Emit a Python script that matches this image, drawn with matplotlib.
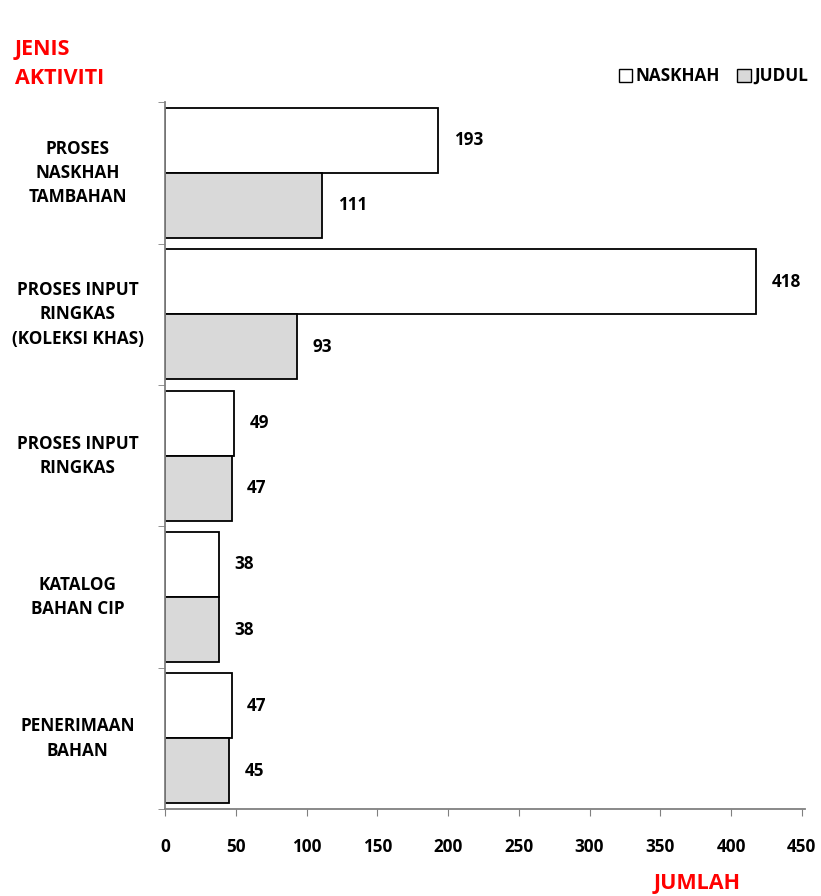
import numpy as np
import matplotlib
matplotlib.use("Agg")
import matplotlib.pyplot as plt
from matplotlib.patches import Patch
from matplotlib.transforms import ScaledTranslation

plt.rcParams['font.family'] = ['Open Sans', 'DejaVu Sans']
plt.rcParams['font.weight'] = 'bold'

categories = ["PROSES\nNASKHAH\nTAMBAHAN", "PROSES INPUT\nRINGKAS\n(KOLEKSI KHAS)",
              "PROSES INPUT\nRINGKAS", "KATALOG\nBAHAN CIP", "PENERIMAAN\nBAHAN"]
naskhah = [193, 418, 49, 38, 47]
judul = [111, 93, 47, 38, 45]
xticks = [0, 50, 100, 150, 200, 250, 300, 350, 400, 450]

fig = plt.figure(figsize=(8.21, 8.96), dpi=100)
ax = fig.add_axes([0.201, 0.097, 0.779, 0.789])

y = np.arange(len(categories))
h = 0.46
ax.barh(y - h / 2, naskhah, height=h, color="white", edgecolor="black", linewidth=1.3, label="NASKHAH")
ax.barh(y + h / 2, judul, height=h, color="#d9d9d9", edgecolor="black", linewidth=1.3, label="JUDUL")

fs = 12.3
for i in range(len(categories)):
    ax.text(naskhah[i] + 11, y[i] - h / 2, str(naskhah[i]), va="center", ha="left", fontsize=fs, fontweight="bold")
    ax.text(judul[i] + 11, y[i] + h / 2, str(judul[i]), va="center", ha="left", fontsize=fs, fontweight="bold")

ax.set_xlim(0, 452)
ax.set_ylim(len(categories) - 0.5, -0.5)
ax.set_xticks(xticks)
ax.set_xticklabels([str(v) for v in xticks], fontsize=fs, fontweight="bold")
ax.set_yticks(y)
ax.set_yticklabels(categories, fontsize=fs, fontweight="bold", ha="center", linespacing=1.45)
ax.set_yticks(np.arange(len(categories) + 1) - 0.5, minor=True)
ax.tick_params(axis="y", which="major", length=0, pad=63)
ax.tick_params(axis="y", which="minor", length=5, color="#808080", direction="out")
ax.tick_params(axis="x", length=5, color="#808080", direction="out", pad=16)

# nudge the category labels up a little
shift = ScaledTranslation(0, 5 / 100, fig.dpi_scale_trans)
for lab in ax.get_yticklabels():
    lab.set_transform(lab.get_transform() + shift)

for s in ["top", "right"]:
    ax.spines[s].set_visible(False)
for s in ["left", "bottom"]:
    ax.spines[s].set_color("#808080")
    ax.spines[s].set_linewidth(1.3)

handles = [Patch(facecolor="white", edgecolor="black", label="NASKHAH"),
           Patch(facecolor="#d9d9d9", edgecolor="black", label="JUDUL")]
fig.legend(handles=handles, loc="center right", bbox_to_anchor=(1.003, 0.915), ncol=2, frameon=False,
           handlelength=0.8, handleheight=0.8, handletextpad=0.2, columnspacing=1.0,
           prop={"weight": "bold", "size": fs})

fig.text(0.018, 0.945, "JENIS", color="red", fontsize=15.5, fontweight="bold", va="center")
fig.text(0.018, 0.912, "AKTIVITI", color="red", fontsize=15.5, fontweight="bold", va="center")
fig.text(0.849, 0.014, "JUMLAH", color="red", fontsize=15.5, fontweight="bold", va="center", ha="center")

plt.savefig("out.png", dpi=100)
